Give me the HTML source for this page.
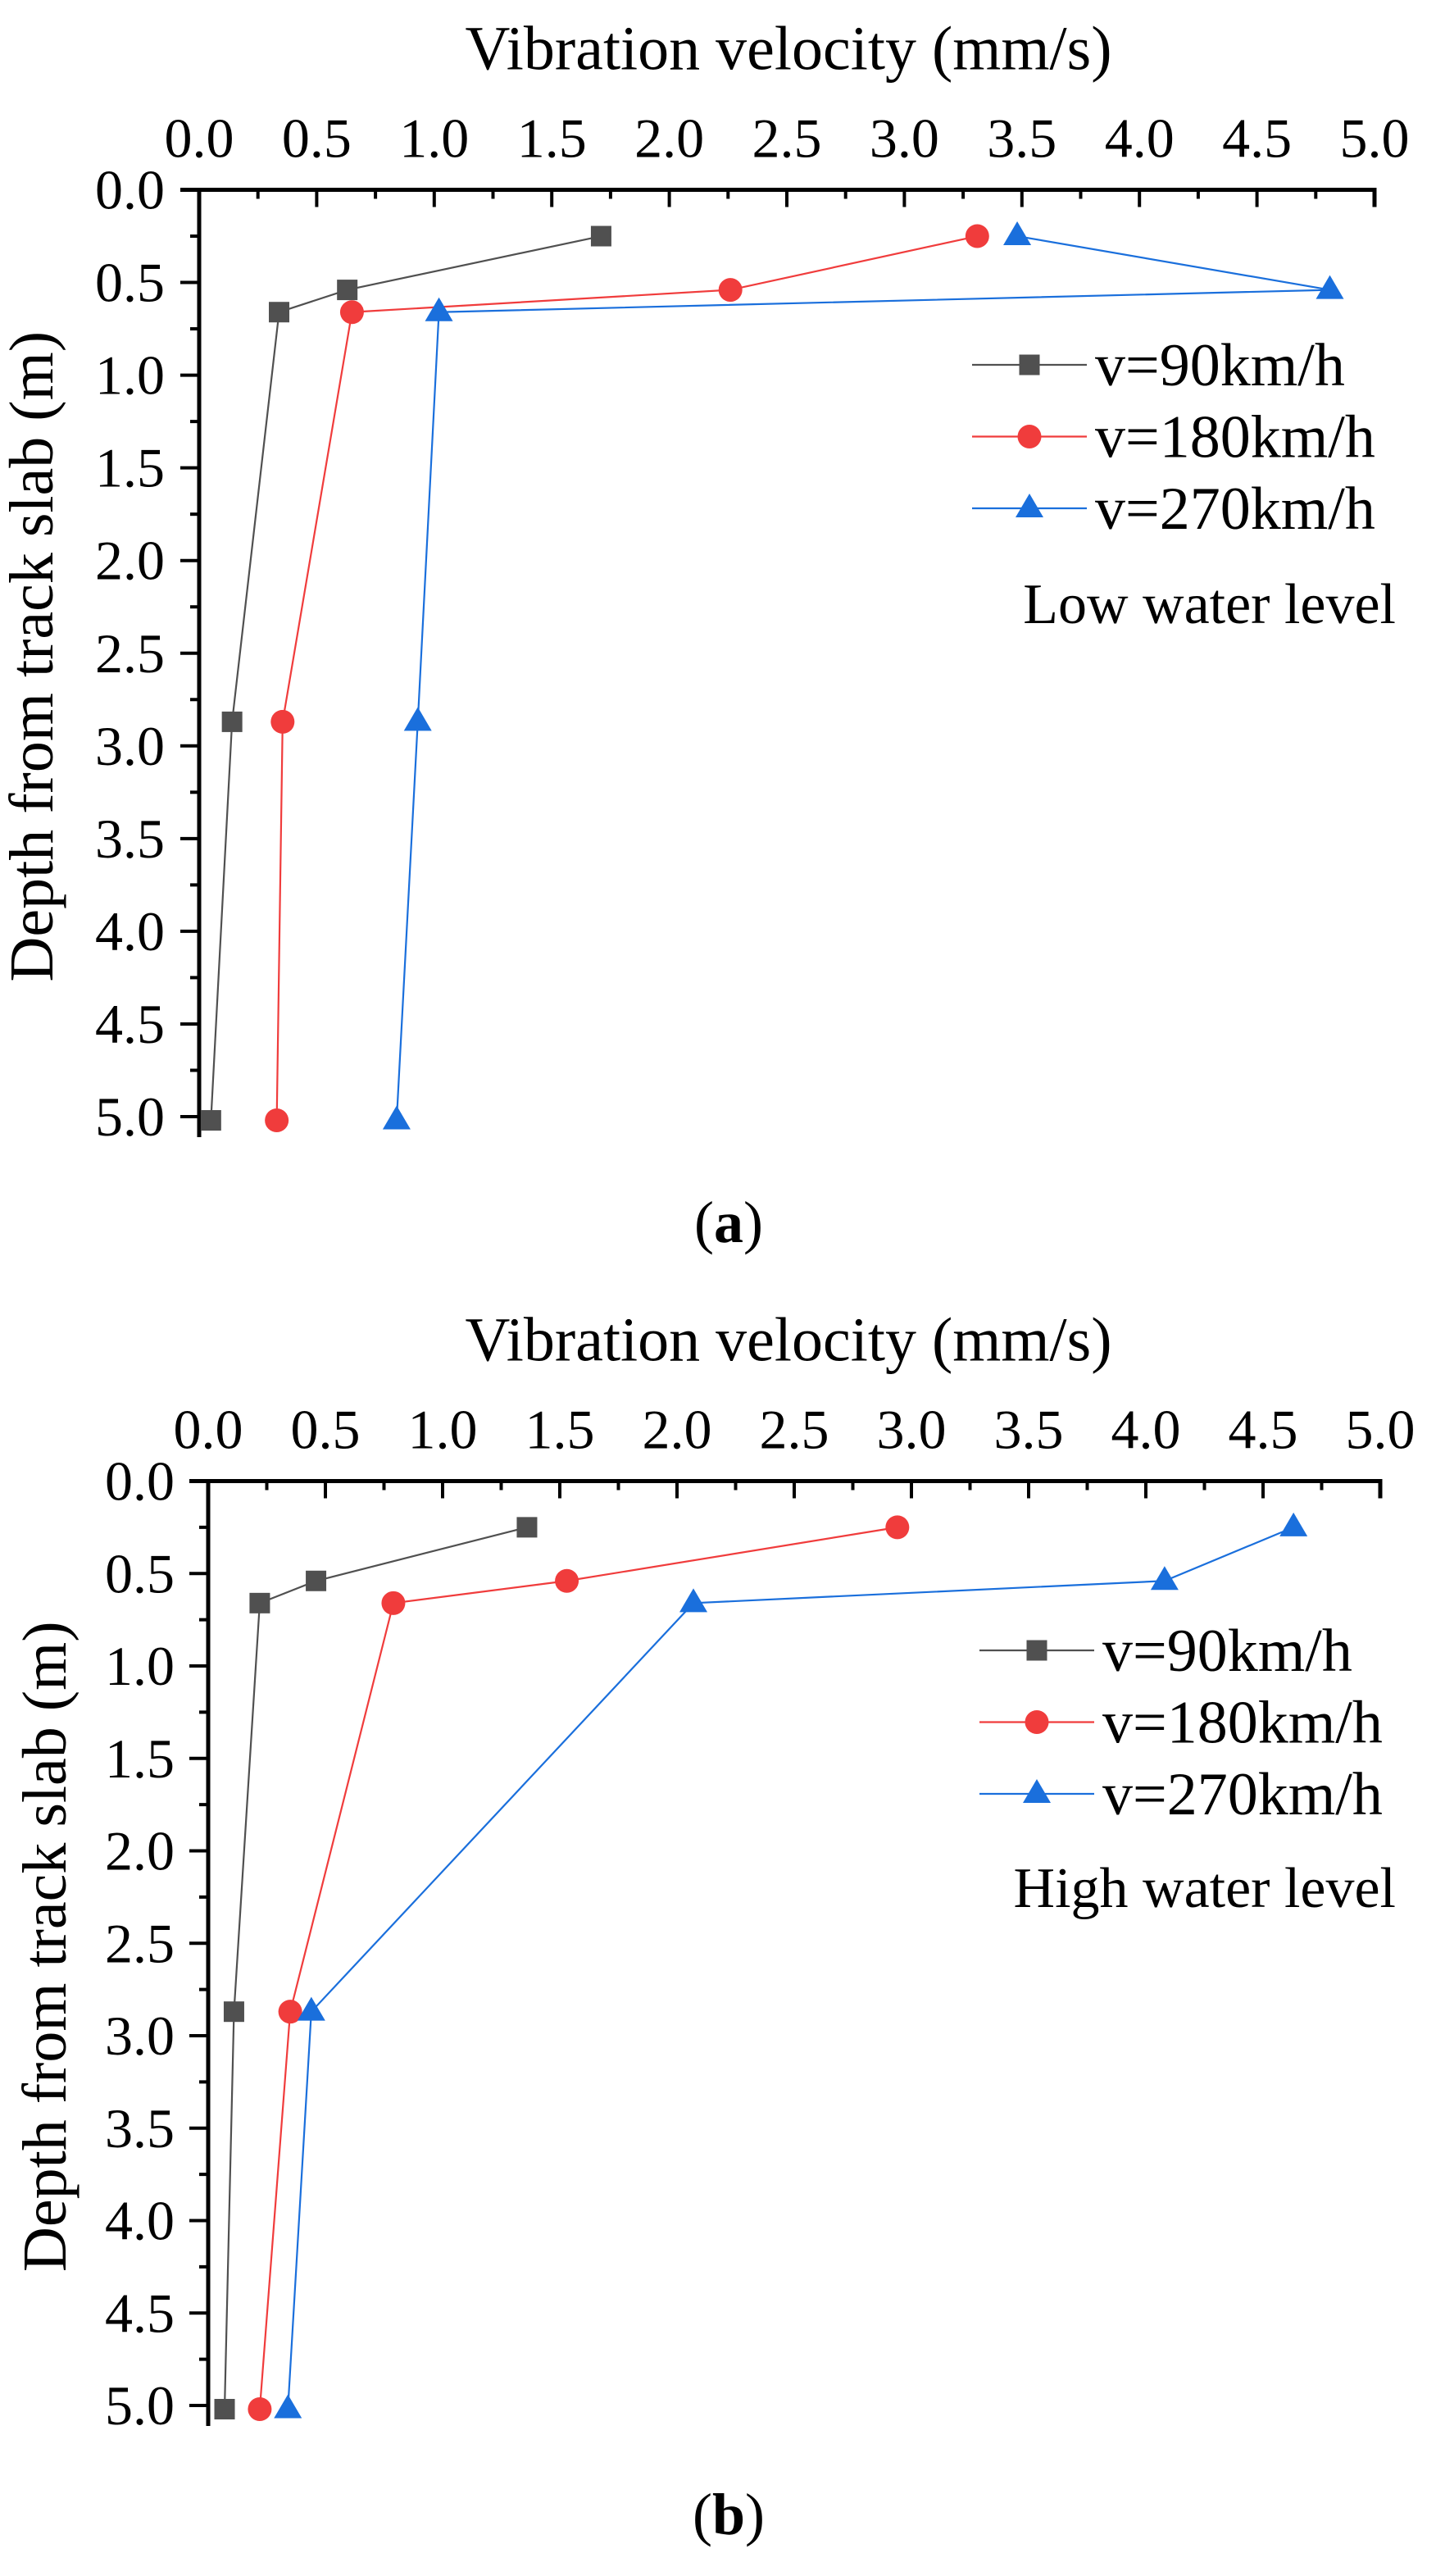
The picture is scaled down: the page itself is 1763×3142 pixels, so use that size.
<!DOCTYPE html>
<html><head><meta charset="utf-8"><style>
html,body{margin:0;padding:0;background:#fff}
svg{display:block;font-family:"Liberation Serif","Times New Roman",serif}
</style></head>
<body>
<svg id="fig" width="1763" height="3142" viewBox="0 0 1763 3142"></svg>
<script>
const depths = [0.25, 0.54, 0.66, 2.87, 5.02];
const seriesNames = ["v=90km/h", "v=180km/h", "v=270km/h"];
const lowV90 = [1.71, 0.63, 0.34, 0.14, 0.05];
const lowV180 = [3.31, 2.26, 0.65, 0.355, 0.33];
const lowV270 = [3.48, 4.81, 1.02, 0.93, 0.84];
const highV90 = [1.36, 0.46, 0.22, 0.11, 0.07];
const highV180 = [2.94, 1.53, 0.79, 0.35, 0.22];
const highV270 = [4.63, 4.08, 2.07, 0.44, 0.34];
const xTicks = ["0.0","0.5","1.0","1.5","2.0","2.5","3.0","3.5","4.0","4.5","5.0"];
const yTicks = ["0.0","0.5","1.0","1.5","2.0","2.5","3.0","3.5","4.0","4.5","5.0"];

const NS="http://www.w3.org/2000/svg";
const svg=document.getElementById('fig');
const colors=["#505050","#f03c3c","#1a6fdc"];
function mk(tag,attrs,parent){const e=document.createElementNS(NS,tag);for(const k in attrs)e.setAttribute(k,attrs[k]);(parent||svg).appendChild(e);return e;}

function panel(cfg){
  const g=mk('g',{});
  
  
  const X=v=>cfg.x0+v*cfg.ux, Y=v=>cfg.y0+v*cfg.uy;
  const ax=mk('path',{d:`M${cfg.x0-23},${cfg.y0}H${X(5)}V${cfg.y0+21}M${cfg.x0},${cfg.y0}V${Y(5)+25}`,stroke:'#000','stroke-width':5,fill:'none'},g);
  
  
  for(let i=0;i<=20;i++){
    const v=i*0.25, maj=i%2===0;
    const xt=mk('line',{x1:X(v),x2:X(v),y1:cfg.y0,y2:cfg.y0+(maj?21:11),stroke:'#000','stroke-width':4},g);
    
    
    const yt=mk('line',{x1:cfg.x0,x2:cfg.x0-(maj?23:11),y1:Y(v),y2:Y(v),stroke:'#000','stroke-width':4},g);
    
    
  }
  xTicks.forEach((t,i)=>{
    const e=mk('text',{x:X(parseFloat(t)),y:cfg.y0-40,'font-size':68,'text-anchor':'middle'},g);e.textContent=t;
    
    
  });
  yTicks.forEach((t,i)=>{
    const e=mk('text',{x:cfg.ylabX,y:Y(parseFloat(t))+23,'font-size':68,'text-anchor':'end'},g);e.textContent=t;
    
    
  });
  const xt=mk('text',{x:962,y:cfg.y0-147,'font-size':76,'text-anchor':'middle'},g);xt.textContent='Vibration velocity (mm/s)';
  
  
  const yc=(cfg.y0+Y(5))/2+4;
  const yt=mk('text',{x:cfg.ytX,y:yc,'font-size':76,'text-anchor':'middle',transform:`rotate(-90 ${cfg.ytX} ${yc})`},g);yt.textContent='Depth from track slab (m)';
  
  
  cfg.series.forEach((vals,si)=>{
    const pts=vals.map((v,i)=>[X(v),Y(depths[i])]);
    const pl=mk('polyline',{points:pts.map(p=>p.join(',')).join(' '),fill:'none',stroke:colors[si],'stroke-width':2.2},g);
    
    
    pts.forEach(p=>{marker(g,si,p[0],p[1]);});
    const ly=cfg.legY+si*87.5;
    const ll=mk('line',{x1:cfg.legX,x2:cfg.legX+140,y1:ly,y2:ly,stroke:colors[si],'stroke-width':2.2},g);
    
    
    marker(g,si,cfg.legX+70,ly);
    const lt=mk('text',{x:cfg.legX+150,y:ly+25,'font-size':74},g);lt.textContent=seriesNames[si];
    
    
  });
  const an=mk('text',{x:1703,y:cfg.annY,'font-size':70,'text-anchor':'end'},g);an.textContent=cfg.ann;
  
  
  const cap=mk('text',{x:889,y:cfg.capY,'font-size':72,'text-anchor':'middle'},g);
  cap.innerHTML='(<tspan font-weight="bold">'+cfg.cap+'</tspan>)';
  
  
}
function marker(g,si,x,y){
  let m;
  if(si===0) m=mk('rect',{x:x-12.5,y:y-12.5,width:25,height:25,fill:colors[0]},g);
  else if(si===1) m=mk('circle',{cx:x,cy:y,r:14.5,fill:colors[1]},g);
  else m=mk('path',{d:`M${x},${y-18}L${x+17},${y+11}L${x-17},${y+11}Z`,fill:colors[2]},g);
  
  
}
panel({name:'panel-a-low-water',x0:243,ux:286.8,y0:231.5,uy:226.1,ylabX:201,ytX:64,
  series:[lowV90,lowV180,lowV270],legX:1186,legY:445,ann:'Low water level',annY:760,cap:'a',capY:1515});
panel({name:'panel-b-high-water',x0:254,ux:286,y0:1806.5,uy:225.5,ylabX:213,ytX:80,
  series:[highV90,highV180,highV270],legX:1195,legY:2013,ann:'High water level',annY:2326,cap:'b',capY:3091});
</script>
</body></html>
